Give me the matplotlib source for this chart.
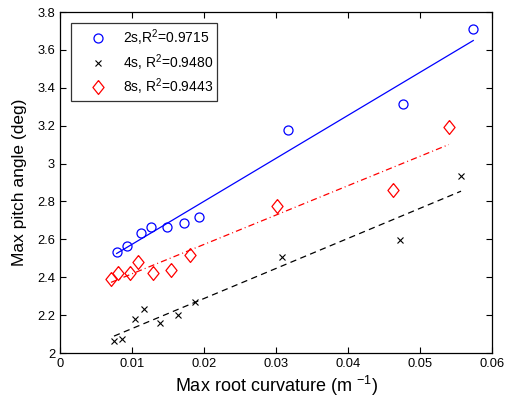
import numpy as np
import matplotlib
matplotlib.use('Agg')
import matplotlib.pyplot as plt
from matplotlib.ticker import FormatStrFormatter

plt.rcParams['font.family'] = ['Liberation Sans', 'DejaVu Sans']
plt.rcParams['mathtext.fontset'] = 'custom'
plt.rcParams['mathtext.rm'] = 'Liberation Sans'

# max root curvature vs max pitch angle for three sea states
x_2s = [0.00787, 0.00926, 0.0113, 0.01259, 0.01481, 0.01727, 0.01935, 0.0317, 0.0477, 0.0574]
y_2s = [2.535, 2.563, 2.634, 2.664, 2.667, 2.685, 2.718, 3.179, 3.316, 3.709]

x_4s = [0.0075, 0.00866, 0.01046, 0.01171, 0.01393, 0.01643, 0.01875, 0.0309, 0.0472, 0.0557]
y_4s = [2.062, 2.074, 2.180, 2.232, 2.157, 2.199, 2.271, 2.508, 2.597, 2.933]

x_8s = [0.00708, 0.0081, 0.00968, 0.01088, 0.01292, 0.01546, 0.01806, 0.0301, 0.0463, 0.0540]
y_8s = [2.392, 2.422, 2.422, 2.480, 2.422, 2.440, 2.516, 2.775, 2.862, 3.195]

labels = ['2s,R$^2$=0.9715', '4s, R$^2$=0.9480', '8s, R$^2$=0.9443']

# matlab style diamond, a bit taller than wide
diamond = [(0, 1), (0.8, 0), (0, -1), (-0.8, 0), (0, 1)]

fig = plt.figure(figsize=(5.06, 4.0), dpi=100)
ax = fig.add_axes([0.1186, 0.1175, 0.8537, 0.8525])

def fitline(x, y, colour, dashes):
    p = np.polyfit(x, y, 1)
    xs = np.array([min(x), max(x)])
    ln, = ax.plot(xs, np.polyval(p, xs), '-', color=colour, lw=0.9)
    if dashes:
        ln.set_dashes(dashes)

ax.plot(x_2s, y_2s, 'o', mfc='none', mec='blue', ms=6.5, mew=0.9, label=labels[0])
ax.plot(x_4s, y_4s, 'x', color='black', ms=5, mew=0.8, label=labels[1])
ax.plot(x_8s, y_8s, marker=diamond, ls='none', mfc='none', mec='red', ms=10, mew=0.9, label=labels[2])

fitline(x_2s, y_2s, 'blue', None)
fitline(x_4s, y_4s, 'black', (5, 3.5))
fitline(x_8s, y_8s, 'red', (5, 2.5, 0.8, 2.5))

ax.set_xlim(0, 0.06)
ax.set_ylim(2, 3.8)
ax.set_xticks(np.arange(0, 0.061, 0.01))
ax.set_yticks(np.arange(2, 3.81, 0.2))
ax.xaxis.set_major_formatter(FormatStrFormatter('%g'))
ax.yaxis.set_major_formatter(FormatStrFormatter('%g'))
ax.tick_params(direction='in', top=True, right=True, labelsize=9.3, length=4, width=0.8)
for s in ax.spines.values():
    s.set_linewidth(0.9)

ax.set_xlabel('Max root curvature (m $^{-1}$)', fontsize=13, labelpad=3)
ax.set_ylabel('Max pitch angle (deg)', fontsize=12.5, labelpad=7)

leg = ax.legend(loc='upper left', fontsize=10, frameon=True, fancybox=False,
                edgecolor='black', borderaxespad=0.82, borderpad=0.3,
                handlelength=3.2, handletextpad=0.2, labelspacing=0.28)
leg.get_frame().set_linewidth(0.9)

fig.savefig('out.png', dpi=100)
